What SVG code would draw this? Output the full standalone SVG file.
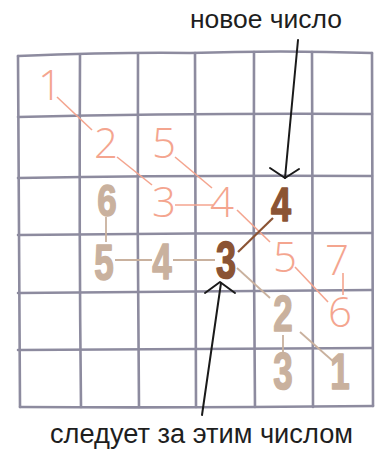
<svg xmlns="http://www.w3.org/2000/svg" width="379" height="452" viewBox="0 0 379 452">
<defs>
<style>
.grid{fill:none;stroke:#8d8b9f;stroke-width:2.6;stroke-linecap:round}
.sal{font-family:"Open Sans","Liberation Sans",sans-serif;font-weight:300;font-size:42px;fill:#f4a58f;text-anchor:middle}
.bold{font-family:"Liberation Sans","DejaVu Sans",sans-serif;font-weight:bold;font-size:50px;text-anchor:middle;stroke-width:1.6;stroke-linejoin:round}
.tan{fill:#c9b19e;stroke:#c9b19e}
.dark{fill:#8b5434;stroke:#8b5434}
.cs{stroke:#f4a58f;stroke-width:1.6;fill:none}
.ct{stroke:#c9b19e;stroke-width:1.8;fill:none}
.cd{stroke:#8b5434;stroke-width:2.2;fill:none}
.arr{stroke:#1a1a1a;stroke-width:2;fill:none;stroke-linecap:round;stroke-linejoin:round}
.lbl{font-family:"Liberation Sans","DejaVu Sans",sans-serif;font-size:25px;fill:#1e1e1e}
</style>
</defs>
<rect width="379" height="452" fill="#ffffff"/>
<g id="grid" class="grid">
<path d="M18,56 Q120,52 190,53 Q280,50 372,53"/>
<path d="M18,117 Q190,113 372,114"/>
<path d="M18,178 Q190,175 372,176"/>
<path d="M18,235 Q190,233 372,233"/>
<path d="M18,293 Q190,291 372,290"/>
<path d="M18,350 Q190,349 372,348"/>
<path d="M20,407 Q190,408 373,406"/>
<path d="M18,56 Q19,230 20,407"/>
<path d="M80,55 Q79,230 81,407"/>
<path d="M138,54 Q137,230 139,407"/>
<path d="M195,53 Q196,230 196,407"/>
<path d="M254,52 Q253,230 255,407"/>
<path d="M312,52 Q313,230 313,407"/>
<path d="M372,53 Q373,230 373,406"/>
</g>
<g id="connectors">
<path class="cs" d="M57,97 L92,130"/>
<path class="cs" d="M117,157 L152,185"/>
<path class="cs" d="M175,157 L212,188"/>
<path class="cs" d="M175,205 L213,205"/>
<path class="cs" d="M237,210 L270,242"/>
<path class="cs" d="M295,267 L328,302"/>
<path class="cs" d="M343,273 L343,295"/>
<path class="ct" d="M106,217 L106,242"/>
<path class="ct" d="M115,260 L152,260"/>
<path class="ct" d="M173,260 L215,260"/>
<path class="ct" d="M237,268 L270,298"/>
<path class="ct" d="M283,335 L283,354"/>
<path class="ct" d="M300,332 L335,363"/>
<path class="cd" d="M238,252 L273,218"/>
</g>
<g id="n-s1"><text class="sal" x="50" y="100">1</text></g>
<g id="n-s2"><text class="sal" x="106" y="158">2</text></g>
<g id="n-s5a"><text class="sal" x="164" y="158">5</text></g>
<g id="n-s3"><text class="sal" x="164" y="217">3</text></g>
<g id="n-s4"><text class="sal" x="222" y="217">4</text></g>
<g id="n-s5b"><text class="sal" x="285" y="272">5</text></g>
<g id="n-s7"><text class="sal" x="337" y="275">7</text></g>
<g id="n-s6"><text class="sal" x="340" y="327">6</text></g>
<g id="n-t6"><text class="bold tan" transform="translate(107,216) scale(0.7,0.9)">6</text></g>
<g id="n-t5"><text class="bold tan" transform="translate(104,280) scale(0.7,1)">5</text></g>
<g id="n-t4"><text class="bold tan" transform="translate(162,279) scale(0.7,1)">4</text></g>
<g id="n-d3"><text class="bold dark" transform="translate(226,278) scale(0.72,1.05)">3</text></g>
<g id="n-d4"><text class="bold dark" transform="translate(281,221) scale(0.72,0.98)">4</text></g>
<g id="n-t2"><text class="bold tan" transform="translate(283,331) scale(0.7,1)">2</text></g>
<g id="n-t3"><text class="bold tan" transform="translate(283,389) scale(0.7,1.02)">3</text></g>
<g id="n-t1"><text class="bold tan" transform="translate(340,389) scale(0.7,1)">1</text></g>
<g id="arrow-top">
<path class="arr" d="M298,40 L285,178"/>
<path class="arr" d="M270,168 L285,178 L299,169"/>
</g>
<g id="arrow-bottom">
<path class="arr" d="M202,415 L221,283"/>
<path class="arr" d="M205,293 L220,282 L235,293"/>
</g>
<g id="label-top"><text class="lbl" x="190" y="28" textLength="152" lengthAdjust="spacingAndGlyphs">новое число</text></g>
<g id="label-bottom"><text class="lbl" x="50" y="443" style="font-size:27px" textLength="303" lengthAdjust="spacingAndGlyphs">следует за этим числом</text></g>
</svg>
